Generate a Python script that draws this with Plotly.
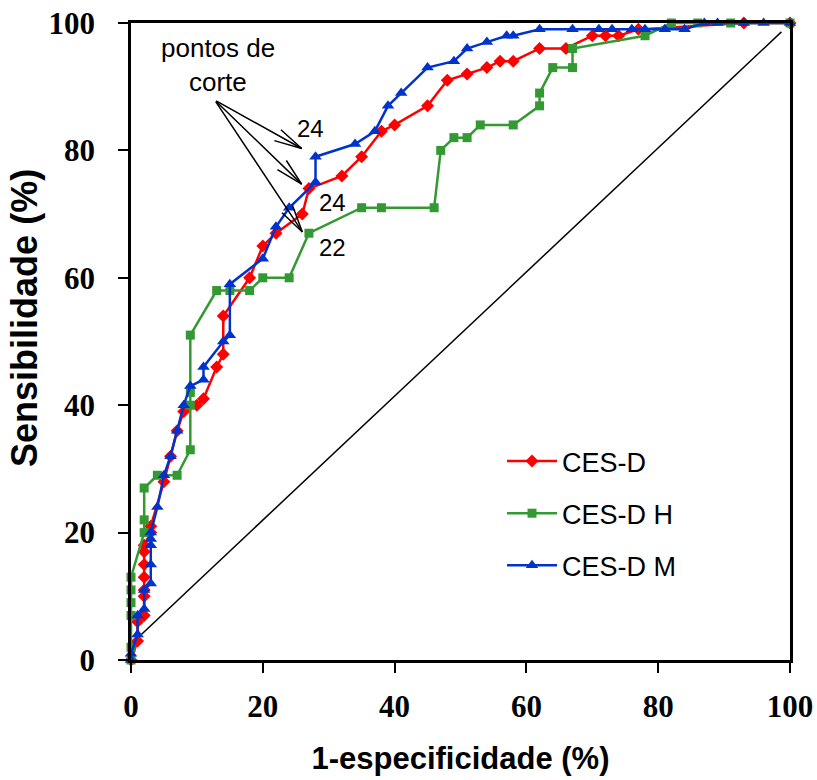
import math
import plotly.graph_objects as go

# ---------------- data (percent) ----------------
cesd_x = [0, 1, 1, 2, 2, 2, 2, 2, 2, 2, 3, 3, 5, 6, 7, 8, 10, 11, 13, 14,
          14, 18, 20, 22, 26, 27, 32, 35, 38, 40, 45, 48, 51, 54, 56, 58, 62, 66, 70, 72,
          74, 77, 93, 100]
cesd_y = [0, 3, 6, 7, 10, 11, 13, 15, 17, 18, 20, 21, 28, 32, 36, 39, 40, 41, 46, 48,
          54, 60, 65, 67, 70, 74, 76, 79, 83, 84, 87, 91, 92, 93, 94, 94, 96, 96, 98, 98,
          98, 99, 100, 100]

cesdh_x = [0, 0, 0, 0, 0, 0, 2, 2, 2, 4, 7, 9, 9, 9, 9, 13, 15, 18, 20, 24,
           27, 35, 38, 46, 47, 49, 51, 53, 58, 62, 62, 64, 67, 67, 78, 82, 86, 91, 100]
cesdh_y = [0, 2, 7, 9, 11, 13, 20, 22, 27, 29, 29, 33, 40, 42, 51, 58, 58, 58, 60, 60,
           67, 71, 71, 71, 80, 82, 82, 84, 84, 87, 89, 93, 93, 96, 98, 100, 100, 100, 100]

cesdm_x = [0, 0, 1, 1, 2, 2, 3, 3, 3, 3, 3, 4, 5, 6, 7, 8, 9, 11, 11, 14,
           15, 15, 20, 22, 24, 28, 28, 34, 37, 39, 41, 45, 49, 51, 54, 57, 58, 62, 67, 71,
           73, 76, 78, 81, 84, 87, 89, 93, 96, 100]
cesdm_y = [0, 1, 4, 7, 8, 11, 12, 15, 18, 19, 20, 24, 29, 32, 36, 40, 43, 44, 46, 50,
           51, 59, 63, 68, 71, 75, 79, 81, 83, 87, 89, 93, 94, 96, 97, 98, 98, 99, 99, 99,
           99, 99, 99, 99, 99, 100, 100, 100, 100, 100]

diag_x = [-0.5, 98.7]
diag_y = [2.0, 98.6]

tick_vals = [0, 20, 40, 60, 80, 100]
tick_text = ["0", "20", "40", "60", "80", "100"]

# cut-point annotation
arrow_tail = (12.7, 87.9)
arrow_tips = [(25.9, 80.3), (25.9, 74.7), (26.0, 67.2)]
cut_labels = [("24", 27.2, 83.5), ("24", 30.5, 71.9), ("22", 30.5, 64.7)]

# ---------------- layout geometry ----------------
W, H = 817, 780
ML, MR, MT, MB = 131, 27, 23, 120
PW, PH = W - ML - MR, H - MT - MB
sx, sy = PW / 100.0, PH / 100.0

RED, GREEN, BLUE = "#FF0000", "#339933", "#0033CC"
SANS = "Liberation Sans, Arial, sans-serif"
SERIF = "Liberation Serif, Times New Roman, serif"

fig = go.Figure()
fig.add_trace(go.Scatter(x=diag_x, y=diag_y, mode="lines",
                         line=dict(color="black", width=1.5),
                         showlegend=False, hoverinfo="skip", cliponaxis=False))
fig.add_trace(go.Scatter(x=cesd_x, y=cesd_y, mode="lines+markers", name="CES-D",
                         legendgroup="a",
                         line=dict(color=RED, width=2.5),
                         marker=dict(symbol="diamond", size=10, color=RED),
                         cliponaxis=False))
fig.add_trace(go.Scatter(x=cesdh_x, y=cesdh_y, mode="lines+markers", name="CES-D H",
                         legendgroup="b",
                         line=dict(color=GREEN, width=2.5),
                         marker=dict(symbol="square", size=9, color=GREEN),
                         cliponaxis=False))
fig.add_trace(go.Scatter(x=cesdm_x, y=cesdm_y, mode="lines+markers", name="CES-D M",
                         legendgroup="c",
                         line=dict(color=BLUE, width=2.5),
                         marker=dict(symbol="triangle-up", size=11, color=BLUE),
                         cliponaxis=False))

annotations = []
annotations.append(dict(x=13.2, y=96.1, text="pontos de", showarrow=False,
                        font=dict(family=SANS, size=26, color="black")))
annotations.append(dict(x=13.2, y=90.7, text="corte", showarrow=False,
                        font=dict(family=SANS, size=26, color="black")))
for t, x, y in cut_labels:
    annotations.append(dict(x=x, y=y, text=t, showarrow=False,
                            font=dict(family=SANS, size=24, color="black")))

L, D = 30.0, math.radians(13)
for tx, ty in arrow_tips:
    annotations.append(dict(x=tx, y=ty, ax=arrow_tail[0], ay=arrow_tail[1],
                            axref="x", ayref="y", text="", showarrow=True,
                            arrowhead=0, arrowwidth=1.5, arrowcolor="black"))
    dxp = (arrow_tail[0] - tx) * sx
    dyp = -(arrow_tail[1] - ty) * sy
    ang = math.atan2(dyp, dxp)
    for s in (-1, 1):
        a = ang + s * D
        annotations.append(dict(x=tx, y=ty, ax=L * math.cos(a), ay=L * math.sin(a),
                                text="", showarrow=True, arrowhead=0,
                                arrowwidth=1.5, arrowcolor="black"))

# y-axis title (placed as rotated text, slightly above plot centre as in the original)
annotations.append(dict(xref="paper", yref="paper", x=(25 - ML) / PW, y=0.537,
                        xanchor="center", yanchor="middle", textangle=-90,
                        text="<b>Sensibilidade (%)</b>", showarrow=False,
                        font=dict(family=SANS, size=36, color="black")))

axis_common = dict(range=[0, 100], tickvals=tick_vals, ticktext=tick_text,
                   showgrid=False, zeroline=False, showline=True, linecolor="black",
                   linewidth=2.5, mirror=True, ticks="outside", ticklen=10,
                   tickwidth=2, tickcolor="black", automargin=False,
                   tickfont=dict(family=SERIF, size=31, color="black", weight="bold"))

fig.update_layout(
    width=W, height=H,
    margin=dict(l=ML, r=MR, t=MT, b=MB, autoexpand=False),
    paper_bgcolor="white", plot_bgcolor="white",
    xaxis=dict(**axis_common, ticklabelstandoff=7,
               title=dict(text="<b>1-especificidade (%)</b>", standoff=25,
                          font=dict(family=SANS, size=31, color="black"))),
    yaxis=dict(**axis_common, ticklabelstandoff=17),
    legend=dict(x=0.563, y=0.35, xanchor="left", yanchor="top",
                font=dict(family=SANS, size=27, color="black"),
                bgcolor="rgba(0,0,0,0)", itemwidth=50, tracegroupgap=14),
    annotations=annotations,
    showlegend=True,
)

fig.write_html("out.html",
               config={"displayModeBar": False},
               post_script="document.body.style.margin='0';"
                           "document.body.style.overflow='hidden';")
